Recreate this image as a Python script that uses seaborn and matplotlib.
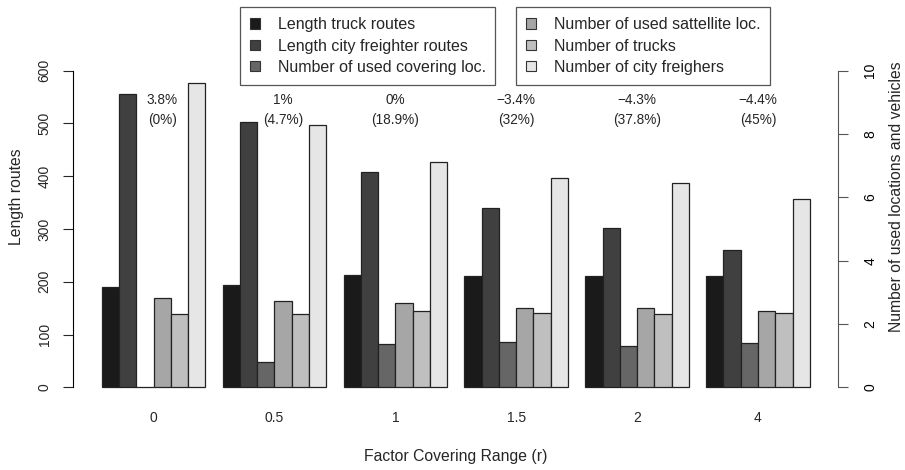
import pandas as pd
import matplotlib
matplotlib.use("Agg")
import matplotlib.pyplot as plt
import matplotlib.patches as mpatches
import seaborn as sns

# ---------------------------------------
# Data
# ---------------------------------------

ranges = ["0", "0.5", "1", "1.5", "2", "4"]

truck_len = [190, 193, 212, 210, 210, 210]
city_len = [556, 503, 407, 340, 302, 260]

covering = [0.0, 0.8, 1.37, 1.43, 1.29, 1.41]
satellite = [2.82, 2.72, 2.67, 2.51, 2.51, 2.42]
trucks = [2.31, 2.31, 2.4, 2.34, 2.31, 2.34]
freighters = [9.62, 8.27, 7.12, 6.6, 6.45, 5.94]

cost_change = ["3.8%", "1%", "0%", "\u22123.4%", "\u22124.3%", "\u22124.4%"]
cover_share = ["(0%)", "(4.7%)", "(18.9%)", "(32%)", "(37.8%)", "(45%)"]

series = [
    "Length truck routes",
    "Length city freighter routes",
    "Number of used covering loc.",
    "Number of used sattellite loc.",
    "Number of trucks",
    "Number of city freighers",
]
colors = ["#1a1a1a", "#404040", "#666666", "#a6a6a6", "#bfbfbf", "#e6e6e6"]
palette = dict(zip(series, colors))

left = pd.DataFrame({
    "range": ranges * 2,
    "series": [series[0]] * 6 + [series[1]] * 6,
    "value": truck_len + city_len,
})
right = pd.DataFrame({
    "range": ranges * 4,
    "series": [series[2]] * 6 + [series[3]] * 6 + [series[4]] * 6 + [series[5]] * 6,
    "value": covering + satellite + trucks + freighters,
})

# ---------------------------------------
# Plot
# ---------------------------------------

sns.set_style("white")
plt.rcParams["font.family"] = ["Liberation Sans", "DejaVu Sans"]

fig = plt.figure(figsize=(9.05, 4.7), dpi=100)
ax = fig.add_axes([0.0811, 0.149, 0.845, 0.7277])
ax2 = ax.twinx()

common = dict(x="range", y="value", hue="series", hue_order=series,
              palette=palette, order=ranges, width=6 / 7, dodge=True,
              edgecolor="#222222", linewidth=0.9, legend=False, errorbar=None)

sns.barplot(data=left, ax=ax, **common)
sns.barplot(data=right, ax=ax2, **common)

ax.set_xlim(-0.663, 5.663)
ax.set_ylim(-24, 624)
ax2.set_ylim(-0.4, 10.4)

for a in (ax, ax2):
    for s in a.spines.values():
        s.set_visible(False)

ax.spines["left"].set_visible(True)
ax.spines["left"].set_bounds(0, 600)
ax.spines["left"].set_color("black")
ax.set_yticks(range(0, 601, 100))
ax.tick_params(axis="y", direction="out", length=7.2, width=0.8, left=True,
               labelsize=10, pad=8.5)
for t in ax.get_yticklabels():
    t.set_rotation(90)
    t.set_va("center")

ax2.spines["right"].set_visible(True)
ax2.spines["right"].set_bounds(0, 10)
ax2.spines["right"].set_color("#555555")
ax2.set_yticks(range(0, 11, 2))
ax2.tick_params(axis="y", direction="out", length=7.2, width=0.8, right=True,
                colors="#555555", labelcolor="black", labelsize=10, pad=11)
for t in ax2.get_yticklabels():
    t.set_rotation(90)
    t.set_va("center")

ax.tick_params(axis="x", length=0, labelsize=10, pad=8)

ax.set_xlabel("Factor Covering Range (r)", fontsize=11.3)
ax.set_ylabel("Length routes", fontsize=11.3)
ax2.set_ylabel("Number of used locations and vehicles", fontsize=11.3)
ax.xaxis.set_label_coords(0.5, -0.166)
ax.yaxis.set_label_coords(-0.0738, 0.595)
ax2.yaxis.set_label_coords(1.0757, 0.595)
for lab in (ax.xaxis.label, ax.yaxis.label, ax2.yaxis.label):
    lab.set_va("center")
    lab.set_ha("center")

# percentage notes above each group
offsets = [0.5 / 7, 0.5 / 7, 0, 0, 0, 0]
for i, (a, b) in enumerate(zip(cost_change, cover_share)):
    ax.text(i + offsets[i], 525, a + "\n" + b, ha="center", va="center",
            fontsize=9.8, linespacing=1.55)

# ---------------------------------------
# Legends
# ---------------------------------------

handles = [mpatches.Patch(facecolor=palette[s], edgecolor="#333333",
                          linewidth=0.8, label=s) for s in series]

leg_kw = dict(loc="upper left", mode="expand", fancybox=False,
              edgecolor="#555555", framealpha=1, borderaxespad=0,
              handlelength=0.6, handleheight=0.6, handletextpad=1.1,
              labelspacing=0.4, borderpad=0.65, fontsize=11.5)

leg1 = fig.legend(handles=handles[:3],
                  bbox_to_anchor=(240 / 905, 1 - 11.5 / 470, 255 / 905, 0.01),
                  **leg_kw)
leg2 = fig.legend(handles=handles[3:],
                  bbox_to_anchor=(516 / 905, 1 - 11.5 / 470, 254 / 905, 0.01),
                  **leg_kw)
for lg in (leg1, leg2):
    lg.get_frame().set_linewidth(0.9)

fig.savefig("out.png", dpi=100)
plt.close(fig)
